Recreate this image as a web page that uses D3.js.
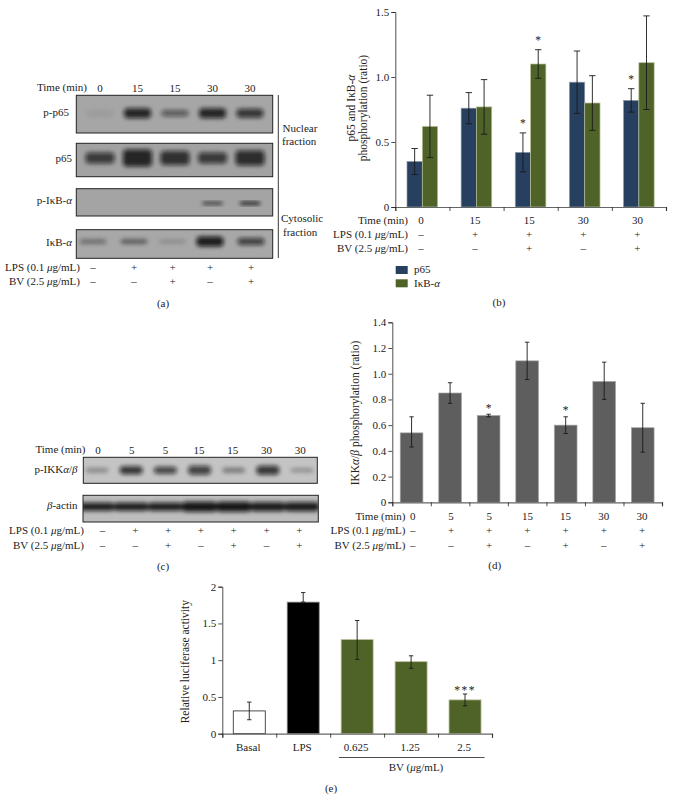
<!DOCTYPE html>
<html><head><meta charset="utf-8">
<script src="https://d3js.org/d3.v7.min.js"></script>
<style>html,body{margin:0;padding:0;background:#fff}svg{display:block}text{font-family:"Liberation Serif",serif;font-size:11px;fill:#222}</style>
</head><body><div id="c"></div>
<script>
// ---- data
const timeB = ["0","15","15","30","30"];
const lpsB = ["–","+","+","+","+"];
const bvB = ["–","–","+","–","+"];
const p65 = [0.35,0.76,0.42,0.96,0.82];
const p65Lo = [0.25,0.64,0.27,0.72,0.73];
const p65Hi = [0.45,0.88,0.57,1.20,0.91];
const ikb = [0.62,0.77,1.10,0.80,1.11];
const ikbLo = [0.38,0.56,0.99,0.59,0.75];
const ikbHi = [0.86,0.98,1.21,1.01,1.47];
const p65Star = [0,0,1,0,1];
const ikbStar = [0,0,1,0,0];

const timeD = ["0","5","5","15","15","30","30"];
const lpsD = ["–","+","+","+","+","+","+"];
const bvD = ["–","–","+","–","+","–","+"];
const ikk = [0.54,0.85,0.675,1.10,0.60,0.94,0.58];
const ikkLo = [0.43,0.77,0.665,0.955,0.535,0.80,0.39];
const ikkHi = [0.665,0.93,0.685,1.245,0.665,1.09,0.77];
const ikkStar = [0,0,1,0,1,0,0];

const catsE = ["Basal","LPS","0.625","1.25","2.5"];
const luc = [0.31,1.79,1.28,0.98,0.46];
const lucLo = [0.19,1.79,1.01,0.89,0.38];
const lucHi = [0.43,1.92,1.54,1.06,0.54];
const lucStar = ["","","","","***"];

// blot band intensities (0-1) and thickness per lane
const blotAnames = ["p-p65","p65","p-IκB-α","IκB-α"];
const blotAint = [[0.06,0.85,0.55,0.85,0.75],[0.72,0.85,0.78,0.72,0.8],[0,0,0,0.85,0.95],[0.35,0.45,0.18,0.9,0.7]];
const blotAthick = [[8,10,6,10,9],[11,17,14,11,15],[0,0,0,2.5,3],[5,5,4,10,7]];
const blotCnames = ["p-IKKα/β","β-actin"];
const blotCint = [[0.3,0.8,0.72,0.72,0.4,0.78,0.3],[0.92,0.92,0.92,0.95,0.95,0.92,0.92]];
const blotCthick = [[5,8,7,9,5,9,4],[8,8,8,10,10,9,9]];
const timeC = ["0","5","5","15","15","30","30"];
const timeA = ["0","15","15","30","30"];

const svg = d3.select("#c").append("svg").attr("width",673).attr("height",810);
const defs = svg.append("defs");
defs.append("filter").attr("id","bl").attr("x","-30%").attr("y","-60%").attr("width","160%").attr("height","220%")
  .append("feGaussianBlur").attr("stdDeviation",2);

function rich(sel,s){
  sel.text(null);
  s.split(/([αβμ])/).forEach(p=>{ if(!p) return;
    const t=sel.append("tspan").text(p);
    if(/[αβμ]/.test(p)) t.attr("font-style","italic"); });
  return sel;
}
function label(x,y,s,anchor,rot){
  const t=svg.append("text").attr("text-anchor",anchor||"middle").attr("dy","0.33em");
  if(rot) t.attr("transform",`translate(${x},${y}) rotate(-90)`).style("font-size","11.5px"); else t.attr("x",x).attr("y",y);
  return rich(t,s);
}
function rows(scale,names,rowsY,dx){
  names.forEach((arr,i)=>{
    arr.forEach((v,j)=>label(scale(j)+dx,rowsY[i],v));
  });
}
function yAxis(y,x,vals,fmt){
  const g=svg.append("g").attr("transform",`translate(${x},0)`)
    .call(d3.axisLeft(y).tickValues(vals).tickFormat(fmt).tickSize(4).tickPadding(2));
  g.selectAll("text").style("font-size","11px");
  g.selectAll("path,line").attr("stroke","#222").attr("stroke-width",0.8);
}
function xAxis(n,x0,x1,yy){
  const s=d3.scaleLinear().domain([0,n]).range([x0,x1]);
  const g=svg.append("g").attr("transform",`translate(0,${yy})`)
    .call(d3.axisBottom(s).tickValues(d3.range(n+1)).tickFormat("").tickSize(4));
  g.selectAll("path").attr("stroke","#666").attr("stroke-width",1.2);
  g.selectAll("line").attr("stroke","#222").attr("stroke-width",0.8);
}
function errs(xs,lo,hi,y,cap){
  const g=svg.append("g").attr("stroke","#1a1a1a").attr("stroke-width",0.9);
  xs.forEach((x,i)=>{
    g.append("line").attr("x1",x).attr("x2",x).attr("y1",y(lo[i])).attr("y2",y(hi[i]));
    [lo[i],hi[i]].forEach(v=>g.append("line").attr("x1",x-cap).attr("x2",x+cap).attr("y1",y(v)).attr("y2",y(v)));
  });
}
function bars(xs,w,vals,y,fill,stroke){
  const y0=y(0);
  svg.append("g").selectAll("rect").data(vals).join("rect")
    .attr("x",(d,i)=>xs[i]).attr("width",w).attr("y",d=>y(d)).attr("height",d=>y0-y(d))
    .attr("fill",fill).attr("stroke",stroke||"none").attr("stroke-width",stroke?0.7:0);
}
function stars(xs,flags,hi,y,txt,off,sp){
  flags.forEach((f,i)=>{ if(!f) return;
    svg.append("text").attr("x",xs[i]).attr("y",y(hi[i])-off).attr("dy","0.55em").attr("text-anchor","middle")
      .style("font-size","11.5px").style("letter-spacing",sp||0).text(typeof f==="string"?f:txt);
  });
}

// ---- (b)
{
  const y=d3.scaleLinear().domain([0,1.5]).range([207,12]);
  const band=d3.scaleBand().domain(d3.range(5)).range([395.3,666]);
  const bw=15.3;
  const xa=d3.range(5).map(i=>band(i)+11.7), xb=xa.map(x=>x+bw);
  bars(xa,bw,p65,y,"#27405f","#8d9ba8");
  bars(xb,bw,ikb,y,"#4f6328","#b7c199");
  xAxis(5,395.3,666,207);
  yAxis(y,395.3,[0,0.5,1,1.5],d=>d===0?"0":d.toFixed(1));
  errs(xa.map(x=>x+bw/2),p65Lo,p65Hi,y,3.2);
  errs(xb.map(x=>x+bw/2),ikbLo,ikbHi,y,3.2);
  stars(xa.map(x=>x+bw/2),p65Star,p65Hi,y,"*",12);
  stars(xb.map(x=>x+bw/2),ikbStar,ikbHi,y,"*",12);
  const cx=i=>421+i*54.1;
  label(408,220,"Time (min)","end");
  label(408,234,"LPS (0.1 μg/mL)","end");
  label(408,248.5,"BV (2.5 μg/mL)","end");
  rows(cx,[timeB,lpsB,bvB],[220,234,248.5],0);
  label(351.5,108,"p65 and IκB-α","middle",true);
  label(362.8,108,"phosphorylation (ratio)","middle",true);
  svg.append("rect").attr("x",395.7).attr("y",266).attr("width",12).attr("height",8).attr("fill","#27405f");
  svg.append("rect").attr("x",395.7).attr("y",279.3).attr("width",12).attr("height",8).attr("fill","#4f6328");
  label(414,269.5,"p65","start");
  label(414,283.5,"IκB-α","start");
  label(499,302,"(b)");
}
// ---- (d)
{
  const y=d3.scaleLinear().domain([0,1.4]).range([502.3,322.3]);
  const band=d3.scaleBand().domain(d3.range(7)).range([392.3,662]);
  const bw=22.7, xs=d3.range(7).map(i=>band(i)+(band.bandwidth()-bw)/2);
  bars(xs,bw,ikk,y,"#5e5e5e","#a5a5a5");
  xAxis(7,392.3,662,502.3);
  yAxis(y,392.3,[0,0.2,0.4,0.6,0.8,1,1.2,1.4],d=>d===0?"0":d.toFixed(1));
  const c=xs.map(x=>x+bw/2);
  errs(c,ikkLo,ikkHi,y,2.2);
  stars(c,ikkStar,ikkHi,y,"*",9);
  const cx=i=>412.8+i*38.2;
  label(405.5,516,"Time (min)","end");
  label(405.5,530.3,"LPS (0.1 μg/mL)","end");
  label(405.5,545,"BV (2.5 μg/mL)","end");
  rows(cx,[timeD,lpsD,bvD],[516,530.3,545],0);
  label(355,413,"IKKα/β phosphorylation (ratio)","middle",true);
  label(494.7,565.7,"(d)");
}
// ---- (e)
{
  const y=d3.scaleLinear().domain([0,2]).range([733.7,586.7]);
  const band=d3.scaleBand().domain(d3.range(5)).range([222.3,492]);
  const bw=32, xs=d3.range(5).map(i=>band(i)+(band.bandwidth()-bw)/2);
  const fills=["#ffffff","#000000","#4f6328","#4f6328","#4f6328"];
  svg.append("g").selectAll("rect").data(luc).join("rect")
    .attr("x",(d,i)=>xs[i]).attr("width",bw).attr("y",d=>y(d)).attr("height",d=>y(0)-y(d))
    .attr("fill",(d,i)=>fills[i]).attr("stroke",(d,i)=>i===0?"#222":(i===1?"#888":"#b7c199")).attr("stroke-width",0.8);
  xAxis(5,222.3,492,733.7);
  yAxis(y,222.3,[0,0.5,1,1.5,2],d=>String(d));
  const c=xs.map(x=>x+bw/2);
  errs(c,lucLo,lucHi,y,2.2);
  stars(c,lucStar,lucHi,y,"***",6,"1.5px");
  catsE.forEach((t,i)=>label(c[i]-1,747,t));
  svg.append("line").attr("x1",339).attr("x2",484.5).attr("y1",757.5).attr("y2",757.5).attr("stroke","#222").attr("stroke-width",0.8);
  label(416,767.5,"BV (μg/mL)");
  label(331,788,"(e)");
  label(185.7,661.7,"Relative luciferase activity","middle",true);
}
// ---- blots
function blot(x0,x1,y0,y1,bg,ints,thick,lane,bw,border,dy){
  const id="c"+Math.round(x0)+Math.round(y0);
  defs.append("clipPath").attr("id",id).append("rect").attr("x",x0).attr("y",y0).attr("width",x1-x0).attr("height",y1-y0);
  svg.append("rect").attr("x",x0).attr("y",y0).attr("width",x1-x0).attr("height",y1-y0).attr("fill",bg);
  const g=svg.append("g").attr("clip-path",`url(#${id})`);
  const my=(y0+y1)/2+(dy||0);
  g.append("g").attr("filter","url(#bl)").selectAll("rect").data(ints).join("rect")
    .attr("x",(d,i)=>lane(i)-bw/2).attr("width",bw)
    .attr("y",(d,i)=>my-thick[i]/2).attr("height",(d,i)=>thick[i])
    .attr("rx",4).attr("fill","#0c0c0c").attr("opacity",d=>d);
  svg.append("rect").attr("x",x0).attr("y",y0).attr("width",x1-x0).attr("height",y1-y0)
    .attr("fill","none").attr("stroke",border).attr("stroke-width",1);
}
// (a)
{
  const lane=d3.scalePoint().domain(d3.range(5)).range([100,250]);
  const cols=[93,134,172.5,210,251];
  const lane4=i=>cols[i];
  const ys=[[95.3,133],[143.3,176.7],[188.7,216],[229.7,258.3]];
  const bgs=["#a6a6a6","#a2a2a2","#a4a4a4","#a8a8a8"];
  const nameX=[69,72,72,72];
  const shift=[-1,-2,1,-2.5];
  const widths=[27,29,21,27];
  ys.forEach((yy,i)=>{
    blot(76.3,272.7,yy[0],yy[1],bgs[i],blotAint[i],blotAthick[i],i===3?lane4:lane,widths[i],"#222",shift[i]);
    label(nameX[i],(yy[0]+yy[1])/2-1.5,blotAnames[i],"end");
  });
  label(87,87.5,"Time (min)","end");
  timeA.forEach((t,i)=>label(lane(i),88.5,t));
  label(80,267,"LPS (0.1 μg/mL)","end");
  label(80,281.5,"BV (2.5 μg/mL)","end");
  lpsB.forEach((t,i)=>label(cols[i],267,t));
  bvB.forEach((t,i)=>label(cols[i],281.5,t));
  svg.append("line").attr("x1",278.3).attr("x2",278.3).attr("y1",95).attr("y2",258).attr("stroke","#222").attr("stroke-width",0.9);
  label(282.5,128.5,"Nuclear","start");
  label(282,141,"fraction","start");
  label(281,218.5,"Cytosolic","start");
  label(283,232,"fraction","start");
  label(163,303,"(a)");
}
// (c)
{
  const lane=d3.scalePoint().domain(d3.range(7)).range([97,302]);
  blot(83.3,317.3,457.3,483.3,"#c4c4c4",blotCint[0],blotCthick[0],lane,23,"#222",0);
  blot(83,318.3,495.3,522,"#bdbdbd",blotCint[1],blotCthick[1],lane,35,"#222",-1.8);
  label(77.5,469,"p-IKKα/β","end");
  label(77.5,505.5,"β-actin","end");
  label(85.5,449.5,"Time (min)","end");
  timeC.forEach((t,i)=>label(98+i*33.7,450,t));
  label(84,530,"LPS (0.1 μg/mL)","end");
  label(84,545,"BV (2.5 μg/mL)","end");
  lpsD.forEach((t,i)=>label(102.5+i*32.8,530,t));
  bvD.forEach((t,i)=>label(102.5+i*32.8,545,t));
  label(163,566,"(c)");
}
</script></body></html>
